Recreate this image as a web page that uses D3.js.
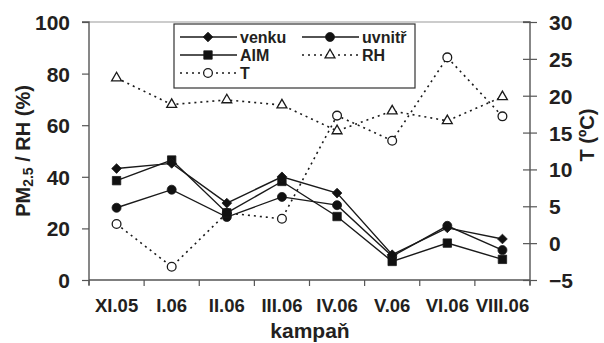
<!DOCTYPE html>
<html>
<head>
<meta charset="utf-8">
<script src="https://cdn.jsdelivr.net/npm/d3@7/dist/d3.min.js"></script>
<style>
  html, body { margin: 0; padding: 0; background: #fff; }
  svg text { font-family: "Liberation Sans", Arial, sans-serif; font-weight: bold; fill: #231f20; }
</style>
</head>
<body>
<svg id="chart" width="604" height="343"></svg>
<script>
// Measurement campaigns
const categories = ["XI.05", "I.06", "II.06", "III.06", "IV.06", "V.06", "VI.06", "VIII.06"];
// PM2.5 concentrations (left axis)
const venku  = [43.2, 45.2, 29.8, 40.0, 33.7, 9.8, 20.2, 15.9];
const uvnitr = [28.0, 35.0, 24.4, 32.2, 29.0, 9.2, 21.0, 11.6];
const aim    = [38.5, 46.5, 26.0, 38.2, 24.6, 7.2, 14.3, 8.0];
// Relative humidity, % (left axis)
const rh     = [78.3, 68.0, 69.8, 67.8, 57.8, 65.5, 61.7, 71.0];
// Temperature, °C (right axis)
const temp   = [2.6, -3.2, 4.1, 3.3, 17.3, 13.9, 25.2, 17.2];
// Tick values
const leftTicks  = [0, 20, 40, 60, 80, 100];
const rightTicks = [-5, 0, 5, 10, 15, 20, 25, 30];

const svg = d3.select("#chart");
const m = { left: 89, right: 530, top: 22, bottom: 280 };

const x = d3.scaleBand().domain(categories).range([m.left, m.right]);
const yL = d3.scaleLinear().domain([0, 100]).range([m.bottom, m.top]);
const yR = d3.scaleLinear().domain([-5, 30]).range([m.bottom, m.top]);
const cx = d => x(d) + x.bandwidth() / 2;

// frame top line
svg.append("line")
  .attr("x1", m.left).attr("x2", m.right)
  .attr("y1", m.top).attr("y2", m.top)
  .attr("stroke", "#9a9a9a").attr("stroke-width", 1.2);

// left axis
const gL = svg.append("g").attr("transform", `translate(${m.left},0)`)
  .call(d3.axisLeft(yL).tickValues(leftTicks).tickSize(7).tickPadding(12));
gL.selectAll("text").style("font-size", "21px").attr("dy", "0.36em");

// right axis with crossing ticks
const gR = svg.append("g").attr("transform", `translate(${m.right},0)`)
  .call(d3.axisRight(yR).tickValues(rightTicks).tickSize(7).tickPadding(12));
gR.selectAll(".tick line").attr("x1", -7);
gR.selectAll("text").style("font-size", "21px").attr("dy", "0.36em");

// bottom axis: ticks at band boundaries, labels at band centres
const gB = svg.append("g").attr("transform", `translate(0,${m.bottom})`)
  .call(d3.axisBottom(x).tickSize(0).tickPadding(19));
gB.selectAll("text").style("font-size", "18.5px");
const bounds = categories.map(c => x(c)).concat([m.right]);
gB.selectAll(".bound").data(bounds).join("line").attr("class", "bound")
  .attr("x1", d => d).attr("x2", d => d).attr("y1", 0).attr("y2", 6)
  .attr("stroke", "#555").attr("stroke-width", 1.2);

[gL, gR, gB].forEach(g => {
  g.select(".domain").attr("stroke", "#555").attr("stroke-width", 1.4);
  g.selectAll(".tick line").attr("stroke", "#555").attr("stroke-width", 1.2);
});
gL.select(".domain").attr("d", `M-7,${m.top}H0V${m.bottom + 5}`);
gR.select(".domain").attr("d", `M-7,${m.top}H0V${m.bottom + 5}`);
gB.select(".domain").attr("d", `M${m.left},0H${m.right}`);

// axis titles
svg.append("text").attr("text-anchor", "middle")
  .attr("transform", `translate(30,151) rotate(-90)`)
  .style("font-size", "20px")
  .call(t => {
    t.append("tspan").text("PM");
    t.append("tspan").text("2.5").style("font-size", "14px").attr("dy", 3);
    t.append("tspan").text(" / RH (%)").attr("dy", -3);
  });
svg.append("text").attr("text-anchor", "middle")
  .attr("transform", `translate(594,135) rotate(-90)`)
  .style("font-size", "20px").text("T (ºC)");
svg.append("text").attr("text-anchor", "middle")
  .attr("x", 310).attr("y", 338)
  .style("font-size", "21px").text("kampaň");

// marker shapes
const sym = {
  diamond: d3.symbol().type(d3.symbolDiamond2).size(60),
  circle: d3.symbol().type(d3.symbolCircle).size(64),
  square: d3.symbol().type(d3.symbolSquare2).size(90),
  triangle: d3.symbol().type(d3.symbolTriangle2).size(70),
  ocircle: d3.symbol().type(d3.symbolCircle).size(60)
};
const series = [
  { name: "RH", vals: rh, y: yL, dash: "2,4", shape: "triangle", fill: "#fff" },
  { name: "T", vals: temp, y: yR, dash: "2,4", shape: "ocircle", fill: "#fff" },
  { name: "uvnitř", vals: uvnitr, y: yL, dash: null, shape: "circle", fill: "#111" },
  { name: "AIM", vals: aim, y: yL, dash: null, shape: "square", fill: "#111" },
  { name: "venku", vals: venku, y: yL, dash: null, shape: "diamond", fill: "#111" }
];

series.forEach(s => {
  const pts = categories.map((c, i) => [cx(c), s.y(s.vals[i])]);
  svg.append("path").attr("d", d3.line()(pts))
    .attr("fill", "none").attr("stroke", "#1a1a1a")
    .attr("stroke-width", s.dash ? 1.6 : 1.4)
    .attr("stroke-dasharray", s.dash);
  svg.append("g").selectAll("path").data(pts).join("path")
    .attr("transform", d => `translate(${d[0]},${d[1]})`)
    .attr("d", sym[s.shape]())
    .attr("fill", s.fill).attr("stroke", "#1a1a1a").attr("stroke-width", s.fill === "#fff" ? 1.3 : 0.8);
});

// legend
const lg = svg.append("g");
lg.append("rect").attr("x", 174).attr("y", 24).attr("width", 241).attr("height", 64)
  .attr("fill", "#fff").attr("stroke", "#333").attr("stroke-width", 1.2);
const legendItems = [
  { s: series[4], col: 0, row: 0 },
  { s: series[2], col: 1, row: 0 },
  { s: series[3], col: 0, row: 1 },
  { s: series[0], col: 1, row: 1 },
  { s: series[1], col: 0, row: 2 }
];
const colX = [180, 302], rowY = [37, 55, 73];
legendItems.forEach(it => {
  const x0 = colX[it.col], y0 = rowY[it.row];
  lg.append("line").attr("x1", x0).attr("x2", x0 + 57).attr("y1", y0).attr("y2", y0)
    .attr("stroke", "#1a1a1a").attr("stroke-width", it.s.dash ? 1.6 : 1.4)
    .attr("stroke-dasharray", it.s.dash);
  lg.append("path").attr("transform", `translate(${x0 + 28},${y0})`)
    .attr("d", sym[it.s.shape]())
    .attr("fill", it.s.fill).attr("stroke", "#1a1a1a").attr("stroke-width", it.s.fill === "#fff" ? 1.3 : 0.8);
  lg.append("text").attr("x", x0 + 60).attr("y", y0 + 6)
    .style("font-size", "16px").text(it.s.name);
});
</script>
</body>
</html>
